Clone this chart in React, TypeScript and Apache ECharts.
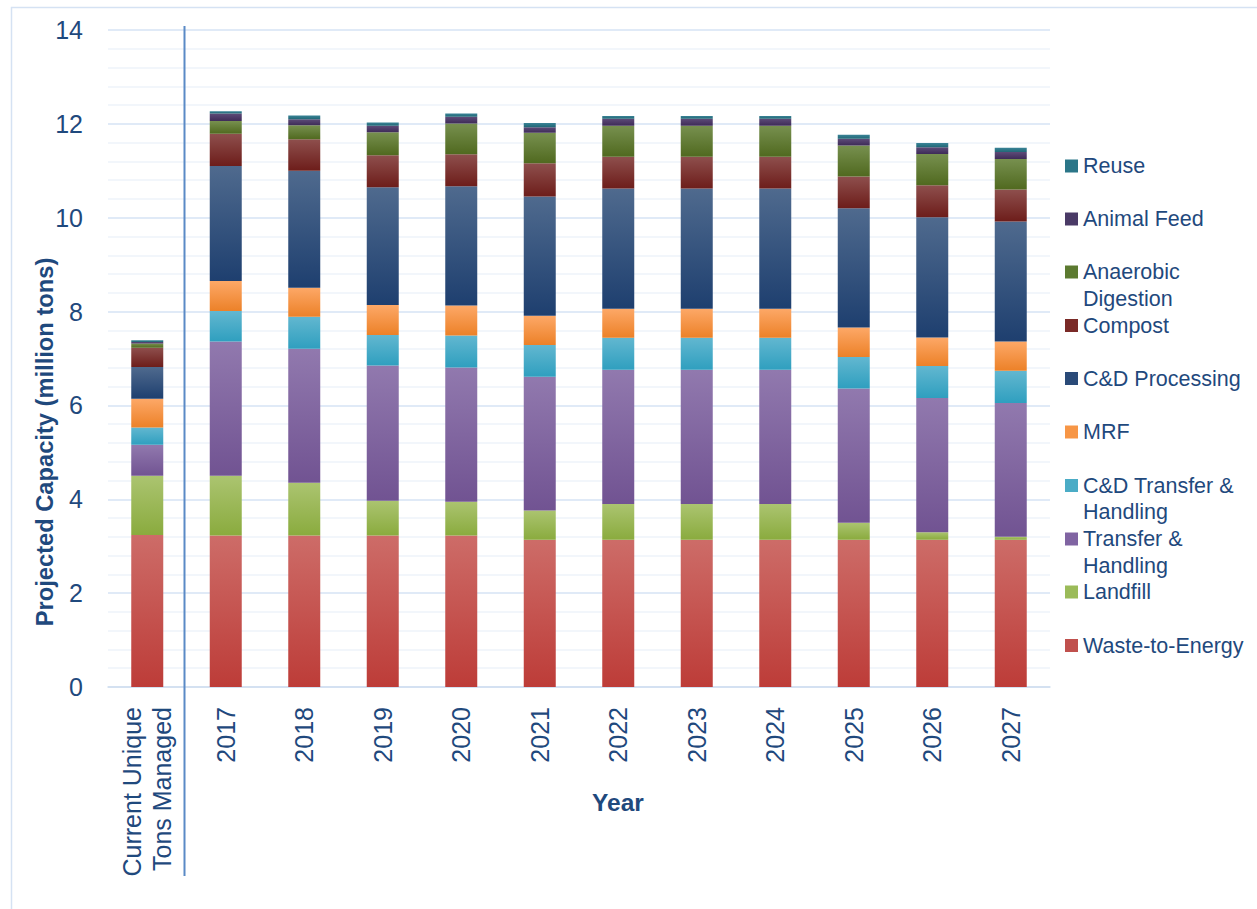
import React, { useEffect, useRef } from "react";
import * as echarts from "echarts";

const categories = [
  "Current Unique\nTons Managed",
  "2017", "2018", "2019", "2020", "2021", "2022", "2023", "2024", "2025", "2026", "2027",
];

const wasteToEnergy = [3.24, 3.23, 3.23, 3.23, 3.23, 3.14, 3.14, 3.14, 3.14, 3.14, 3.14, 3.14];
const landfill = [1.26, 1.27, 1.12, 0.74, 0.72, 0.62, 0.76, 0.76, 0.76, 0.36, 0.16, 0.06];
const transferHandling = [0.66, 2.86, 2.86, 2.88, 2.86, 2.85, 2.86, 2.86, 2.86, 2.86, 2.86, 2.85];
const cdTransferHandling = [0.37, 0.65, 0.68, 0.65, 0.68, 0.68, 0.68, 0.68, 0.68, 0.67, 0.68, 0.69];
const mrf = [0.61, 0.64, 0.62, 0.64, 0.64, 0.62, 0.62, 0.62, 0.62, 0.63, 0.61, 0.62];
const cdProcessing = [0.68, 2.45, 2.49, 2.51, 2.54, 2.54, 2.56, 2.56, 2.56, 2.54, 2.56, 2.56];
const compost = [0.41, 0.69, 0.67, 0.68, 0.68, 0.71, 0.68, 0.68, 0.68, 0.68, 0.68, 0.68];
const anaerobicDigestion = [0.09, 0.27, 0.3, 0.49, 0.66, 0.65, 0.66, 0.66, 0.66, 0.66, 0.67, 0.65];
const animalFeed = [0.03, 0.16, 0.13, 0.14, 0.14, 0.12, 0.15, 0.15, 0.15, 0.14, 0.14, 0.15];
const reuse = [0.04, 0.05, 0.08, 0.07, 0.07, 0.09, 0.06, 0.06, 0.06, 0.09, 0.09, 0.09];

// bottom to top stacking order
const seriesDefs = [
  { name: "Waste-to-Energy", data: wasteToEnergy, top: "#cd6c68", bottom: "#bd3c38", solid: "#c0504d" },
  { name: "Landfill", data: landfill, top: "#abc470", bottom: "#8aab3e", solid: "#9bbb59" },
  { name: "Transfer & Handling", data: transferHandling, top: "#9179ae", bottom: "#715392", solid: "#8064a2" },
  { name: "C&D Transfer & Handling", data: cdTransferHandling, top: "#62b7d0", bottom: "#2f9fbf", solid: "#4bacc6" },
  { name: "MRF", data: mrf, top: "#fda867", bottom: "#ec8128", solid: "#f79646" },
  { name: "C&D Processing", data: cdProcessing, top: "#4f6a8e", bottom: "#1e3f6f", solid: "#2a4a78" },
  { name: "Compost", data: compost, top: "#8e4f4d", bottom: "#6d1d1a", solid: "#7a2a27" },
  { name: "Anaerobic Digestion", data: anaerobicDigestion, top: "#77904f", bottom: "#50691f", solid: "#5c7a30" },
  { name: "Animal Feed", data: animalFeed, top: "#5d4b78", bottom: "#3e2b58", solid: "#4a3a66" },
  { name: "Reuse", data: reuse, top: "#3a8497", bottom: "#216776", solid: "#2b7688" },
];

// legend: name, first line shown in legend, second line (if any), slot y
const legendItems = [
  { name: "Reuse", first: "Reuse", second: "", y: 166 },
  { name: "Animal Feed", first: "Animal Feed", second: "", y: 219 },
  { name: "Anaerobic Digestion", first: "Anaerobic", second: "Digestion", y: 272 },
  { name: "Compost", first: "Compost", second: "", y: 325.5 },
  { name: "C&D Processing", first: "C&D Processing", second: "", y: 378.5 },
  { name: "MRF", first: "MRF", second: "", y: 432 },
  { name: "C&D Transfer & Handling", first: "C&D Transfer &", second: "Handling", y: 485.5 },
  { name: "Transfer & Handling", first: "Transfer &", second: "Handling", y: 539 },
  { name: "Landfill", first: "Landfill", second: "", y: 592 },
  { name: "Waste-to-Energy", first: "Waste-to-Energy", second: "", y: 645.5 },
];

const TEXT = "#1f497d";
const FONT = "'Liberation Sans', Arial, sans-serif";

export default function App() {
  const ref = useRef<HTMLDivElement>(null);

  useEffect(() => {
    if (!ref.current) return;
    const chart = echarts.init(ref.current, undefined, { renderer: "svg" });

    const legends = legendItems.map((it) => {
      const def = seriesDefs.find((s) => s.name === it.name)!;
      return {
        show: true,
        left: 1065,
        top: it.y - 12,
        padding: 0,
        itemGap: 0,
        itemWidth: 13,
        itemHeight: 13,
        icon: "rect",
        selectedMode: false,
        data: [{ name: it.name, itemStyle: { color: def.solid } }],
        formatter: () => it.first,
        textStyle: { fontSize: 21.5, lineHeight: 24, color: TEXT, fontFamily: FONT },
      };
    });

    const secondLines = legendItems
      .filter((it) => it.second)
      .map((it) => ({
        type: "text",
        x: 1083,
        y: it.y + 26.5,
        style: {
          text: it.second,
          fill: TEXT,
          font: `21.5px ${FONT}`,
          align: "left",
          verticalAlign: "middle",
        },
      }));

    chart.setOption({
      animation: false,
      backgroundColor: "#ffffff",
      textStyle: { fontFamily: FONT },
      grid: { left: 108, right: 207, top: 30, bottom: 222, containLabel: false },
      legend: legends,
      xAxis: {
        type: "category",
        data: categories,
        boundaryGap: true,
        axisLine: { show: true, lineStyle: { color: "#d0def0", width: 1.5 } },
        axisTick: { show: false },
        axisLabel: {
          rotate: 90,
          interval: 0,
          margin: 20,
          fontSize: 25,
          lineHeight: 30,
          color: TEXT,
          fontFamily: FONT,
        },
      },
      yAxis: {
        type: "value",
        min: 0,
        max: 14,
        interval: 2,
        axisLine: { show: false },
        axisTick: { show: false },
        axisLabel: { fontSize: 25, color: TEXT, margin: 25, fontFamily: FONT },
        splitLine: { show: true, lineStyle: { color: "#d6e3f4", width: 1.5 } },
        minorTick: { show: false, splitNumber: 5 },
        minorSplitLine: { show: true, lineStyle: { color: "#eef3fa", width: 1.5 } },
      },
      series: seriesDefs.map((s) => ({
        name: s.name,
        type: "bar",
        stack: "total",
        barWidth: 32,
        data: s.data,
        itemStyle: {
          color: new echarts.graphic.LinearGradient(0, 0, 0, 1, [
            { offset: 0, color: s.top },
            { offset: 1, color: s.bottom },
          ]),
        },
        emphasis: { disabled: true },
      })),
      graphic: [
        {
          type: "rect",
          shape: { x: 11.5, y: 7.5, width: 1400, height: 1000 },
          style: { fill: "none", stroke: "#d5e2f3", lineWidth: 1.5 },
          silent: true,
          z: -10,
        },
        {
          type: "line",
          shape: { x1: 184.5, y1: 26, x2: 184.5, y2: 876 },
          style: { stroke: "#5a8ac6", lineWidth: 2 },
          silent: true,
          z: 10,
        },
        {
          type: "text",
          x: 44.5,
          y: 442,
          rotation: Math.PI / 2,
          style: {
            text: "Projected Capacity (million tons)",
            fill: TEXT,
            font: `bold 23.7px ${FONT}`,
            align: "center",
            verticalAlign: "middle",
          },
        },
        {
          type: "text",
          x: 618,
          y: 802,
          style: {
            text: "Year",
            fill: TEXT,
            font: `bold 24.5px ${FONT}`,
            align: "center",
            verticalAlign: "middle",
          },
        },
        ...secondLines,
      ],
    });

    return () => chart.dispose();
  }, []);

  return (
    <div
      ref={ref}
      style={{ position: "absolute", left: 0, top: 0, width: 1257, height: 909, background: "#fff" }}
    />
  );
}
